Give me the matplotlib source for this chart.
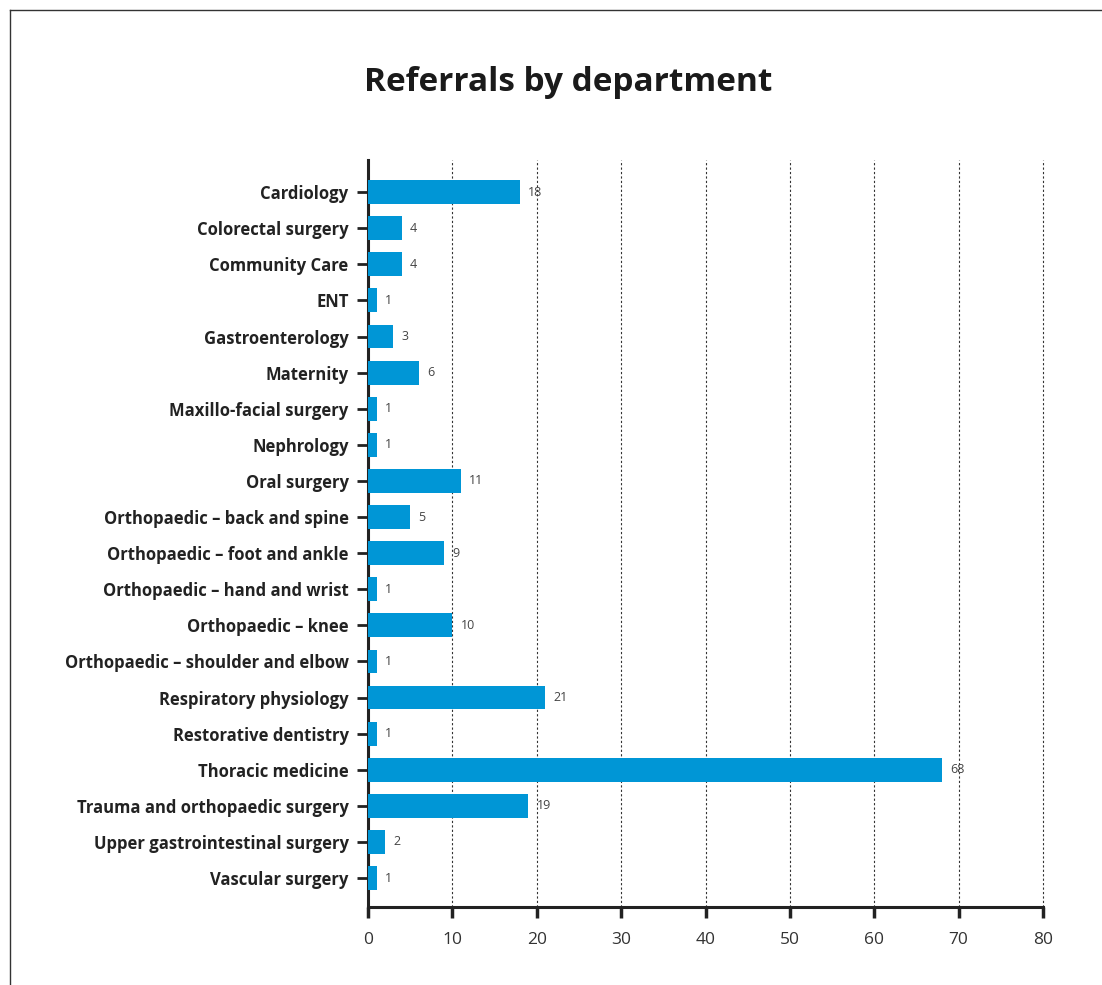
import matplotlib
matplotlib.use("Agg")
import matplotlib.pyplot as plt
from matplotlib.lines import Line2D

departments = [
    "Cardiology", "Colorectal surgery", "Community Care", "ENT", "Gastroenterology",
    "Maternity", "Maxillo-facial surgery", "Nephrology", "Oral surgery",
    "Orthopaedic – back and spine", "Orthopaedic – foot and ankle",
    "Orthopaedic – hand and wrist", "Orthopaedic – knee",
    "Orthopaedic – shoulder and elbow", "Respiratory physiology",
    "Restorative dentistry", "Thoracic medicine", "Trauma and orthopaedic surgery",
    "Upper gastrointestinal surgery", "Vascular surgery",
]
referrals = [18, 4, 4, 1, 3, 6, 1, 1, 11, 5, 9, 1, 10, 1, 21, 1, 68, 19, 2, 1]
x_ticks = [0, 10, 20, 30, 40, 50, 60, 70, 80]

plt.rcParams['font.family'] = ['Open Sans', 'DejaVu Sans']

fig = plt.figure(figsize=(11.02, 9.85), dpi=100)
ax = fig.add_axes([0.334, 0.0792, 0.6125, 0.7584])

n = len(departments)
ypos = list(range(n))
ax.barh(ypos, referrals, height=0.66, color="#0096D6", zorder=3)
for y, v in zip(ypos, referrals):
    ax.annotate(str(v), (v, y), xytext=(6, 0), textcoords="offset points",
                va="center", ha="left", fontsize=9, color="#444444")

ax.set_yticks(ypos)
ax.set_yticklabels(departments, fontsize=12, fontweight="bold", color="#222222")
ax.set_ylim(n - 1 + 0.8, -0.89)
ax.set_xlim(0, 80)
ax.set_xticks(x_ticks)
ax.set_xticklabels([str(t) for t in x_ticks], fontsize=12.5, color="#333333")

for t in x_ticks[1:]:
    ax.axvline(t, color="#333333", linestyle=(0, (2, 2)), linewidth=0.8, zorder=1,
               clip_on=False)

for s in ["top", "right"]:
    ax.spines[s].set_visible(False)
for s in ["left", "bottom"]:
    ax.spines[s].set_linewidth(2.2)
    ax.spines[s].set_color("#222222")
ax.tick_params(axis="y", length=8, width=2, color="#222222", pad=6)
ax.tick_params(axis="x", length=8, width=2.5, color="#222222", pad=10)

fig.text(0.5155, 0.916, "Referrals by department", ha="center", va="center",
         fontsize=24, fontweight="bold", color="#1a1a1a")

# frame lines
fig.add_artist(Line2D([10/1102, 1.0], [1 - 10/985, 1 - 10/985], transform=fig.transFigure,
                      color="#333333", linewidth=1))
fig.add_artist(Line2D([10/1102, 10/1102], [0.0, 1 - 10/985], transform=fig.transFigure,
                      color="#333333", linewidth=1))

fig.savefig("out.png", dpi=100)
